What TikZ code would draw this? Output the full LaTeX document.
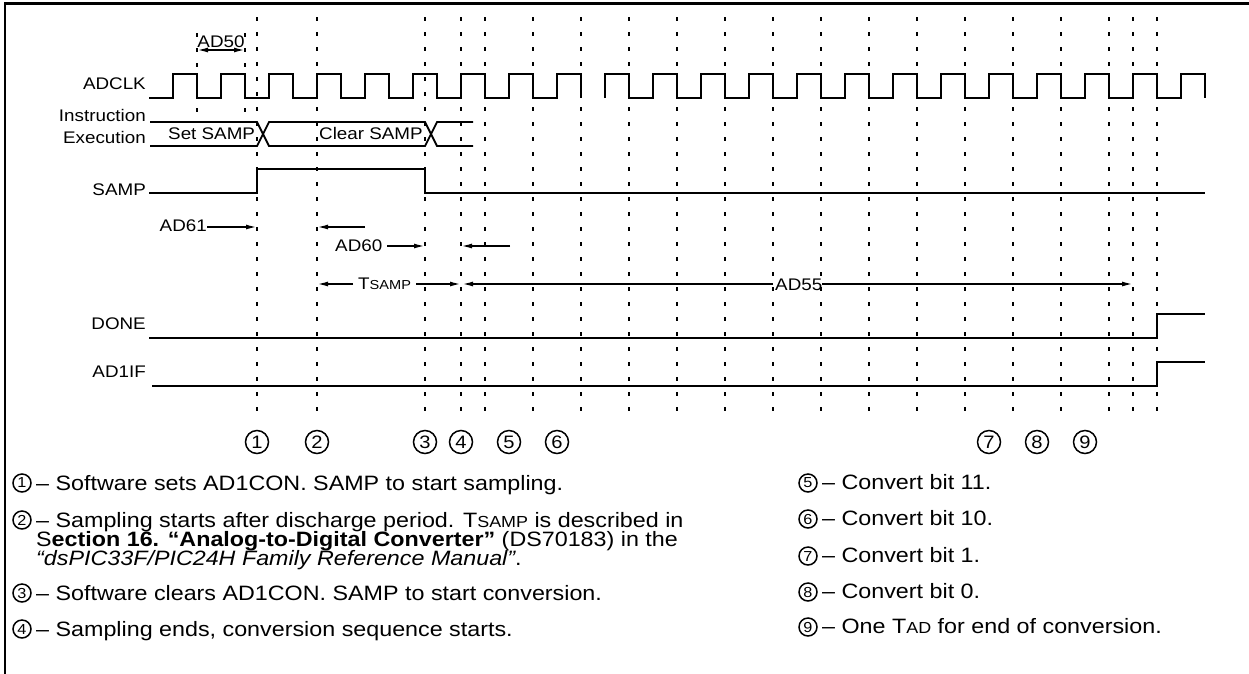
\documentclass[tikz,border=0pt]{standalone}
\usepackage{fontspec}
\setmainfont{Liberation Sans}[FakeStretch=1.12]
\usetikzlibrary{arrows.meta}
\newcommand{\lblfont}{\fontsize{16.8}{19}\selectfont}
\newcommand{\smlfont}{\fontsize{13}{15}\selectfont}
\newcommand{\lgdfont}{\fontsize{20.8}{19}\selectfont}
\newcommand{\lgdsml}{\fontsize{16}{19}\selectfont}
\begin{document}
\begin{tikzpicture}[x=1pt,y=-1pt,
  wave/.style={line width=2.2pt},
  gridline/.style={line width=1.8pt, dash pattern=on 4pt off 11pt},
  arr/.style={line width=1.7pt, -{Latex[length=11pt,width=5pt]}},
  dblarr/.style={line width=1.7pt, {Latex[length=11pt,width=5pt]}-{Latex[length=11pt,width=5pt]}},
  lbl/.style={inner sep=0pt, font=\lblfont},
  lgd/.style={inner sep=0pt, font=\lgdfont, anchor=base west},
  tcirc/.style={circle, draw, line width=1.5pt, minimum size=23pt, inner sep=0pt, font=\fontsize{18}{18}\selectfont},
  lcirc/.style={circle, draw, line width=1.5pt, minimum size=18pt, inner sep=0pt, font=\fontsize{14.5}{14.5}\selectfont}]
\useasboundingbox (0,0) rectangle (1249,673);
\fill[white] (0,0) rectangle (1249,673);
% frame
\draw[line width=2.6pt] (5,690) -- (5,3.5) -- (1260,3.5);

% dashed time grid
\foreach \x in {257,317,425,461,485,533,581,629,677,725,773,821,869,917,965,1013,1061,1109,1133,1157}
  \draw[gridline] (\x,17) -- (\x,417);
\foreach \x in {197,245}
  \draw[gridline] (\x,33) -- (\x,113);

% signal labels
\node[lbl, anchor=base east] (adclk) at (146,89) {ADCLK};
\node[lbl, anchor=base east] (instr) at (146,121) {Instruction};
\node[lbl, anchor=base east] (exec) at (146,143) {Execution};
\node[lbl, anchor=base east] (samp) at (146,195) {SAMP};
\node[lbl, anchor=base east] (done) at (146,329) {DONE};
\node[lbl, anchor=base east] (adif) at (146,377) {AD1IF};

% ADCLK
\draw[wave] (149,98) foreach \r in {173,221,...,557}{ -- (\r,98) -- (\r,74) -- (\r+24,74) -- (\r+24,98)};
\draw[wave] (605,98) foreach \r in {605,653,...,1181}{ -- (\r,98) -- (\r,74) -- (\r+24,74) -- (\r+24,98)};

% Instruction execution bus
\draw[wave, line width=1.8pt] (150,122) -- (257,122) -- (269,146) -- (425,146) -- (437,122) -- (473,122);
\draw[wave, line width=1.8pt] (150,146) -- (257,146) -- (269,122) -- (425,122) -- (437,146) -- (473,146);
\node[lbl, anchor=base west] (setsamp) at (168,139) {Set SAMP};
\node[lbl, anchor=base west] (clrsamp) at (319,139) {Clear SAMP};

% SAMP
\draw[wave] (149,193) -- (257,193) -- (257,169) -- (425,169) -- (425,193) -- (1205,193);
% DONE
\draw[wave] (149,338) -- (1157,338) -- (1157,314) -- (1205,314);
% AD1IF
\draw[wave] (152,386) -- (1157,386) -- (1157,362) -- (1205,362);

% AD50
\coordinate (a50l) at (197,50);
\coordinate (a50r) at (245,50);
\draw[dblarr] (a50l) -- (a50r);
\node[lbl, anchor=base] (ad50) at (221,47) {AD50};

% AD61
\node[lbl, anchor=base east] (ad61) at (207,231) {AD61};
\coordinate (m1a) at (257,227);
\draw[arr] (ad61.east |- m1a) -- (m1a);

% AD60
\coordinate (a60s) at (365,227);
\coordinate (m2a) at (317,227);
\draw[arr] (a60s) -- (m2a);
\node[lbl, anchor=base west] (ad60) at (335,251) {AD60};
\coordinate (m3a) at (425,246);
\draw[arr] (387,246) -- (m3a);
\coordinate (a60t) at (510,246);
\coordinate (m4a) at (461,246);
\draw[arr] (a60t) -- (m4a);

% TSAMP
\node[lbl, anchor=base west] (tsamp) at (358,289) {T{\smlfont SAMP}};
\coordinate (m2b) at (317,284);
\coordinate (m4b) at (461,284);
\draw[arr] (353,284) -- (m2b);
\draw[arr] (tsamp.east |- m4b) ++(5,0) -- (m4b);

% AD55
\node[lbl, anchor=base west] (ad55) at (775,290) {AD55};
\coordinate (m4c) at (462,284);
\coordinate (m9) at (1133,284);
\draw[arr] (773,284) -- (m4c);
\draw[arr] (ad55.east |- m9) -- (m9);

% markers
\foreach \n/\x in {1/257,2/317,3/425,4/461,5/509,6/557,7/989,8/1037,9/1085}
  \node[tcirc] (t\n) at (\x,442) {\n};

% legend, left column
\node[lcirc] (l1) at (22,483) {1};
\node[lgd] (l1t) at (36,490) {\textendash{} Software sets AD1CON. SAMP to start sampling.};
\node[lcirc] (l2) at (22,520) {2};
\node[lgd] (l2t) at (36,527) {\lineskiplimit=-100pt\baselineskip=19pt\vtop{%
  \hbox{\textendash{} Sampling starts after discharge period. T{\lgdsml SAMP} is described in}%
  \hbox{S\textbf{ection 16. “Analog-to-Digital Converter”} (DS70183) in the}%
  \hbox{\textit{“dsPIC33F/PIC24H Family Reference Manual”}.}}};
\node[lcirc] (l3) at (22,593) {3};
\node[lgd] (l3t) at (36,600) {\textendash{} Software clears AD1CON. SAMP to start conversion.};
\node[lcirc] (l4) at (22,629) {4};
\node[lgd] (l4t) at (36,636) {\textendash{} Sampling ends, conversion sequence starts.};

% legend, right column
\node[lcirc] (l5) at (808,483) {5};
\node[lgd] (l5t) at (822,489) {\textendash{} Convert bit 11.};
\node[lcirc] (l6) at (808,519) {6};
\node[lgd] (l6t) at (822,525) {\textendash{} Convert bit 10.};
\node[lcirc] (l7) at (808,556) {7};
\node[lgd] (l7t) at (822,562) {\textendash{} Convert bit 1.};
\node[lcirc] (l8) at (808,592) {8};
\node[lgd] (l8t) at (822,598) {\textendash{} Convert bit 0.};
\node[lcirc] (l9) at (808,627) {9};
\node[lgd] (l9t) at (822,633) {\textendash{} One T{\lgdsml AD} for end of conversion.};
\end{tikzpicture}
\end{document}
